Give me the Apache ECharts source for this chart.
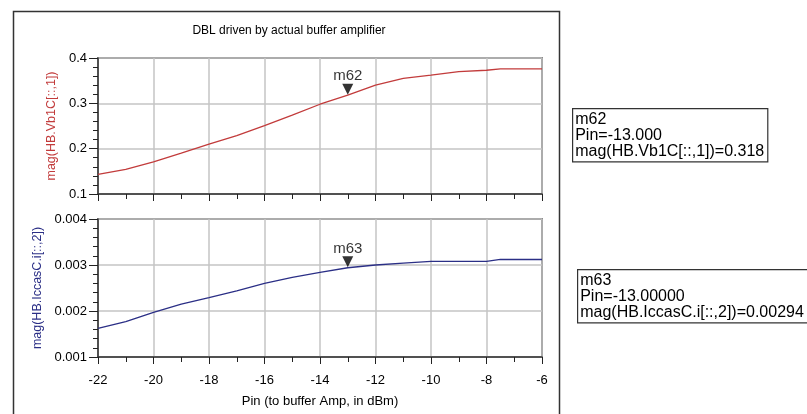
<!DOCTYPE html>
<html>
<head>
<meta charset="utf-8">
<script src="https://cdn.jsdelivr.net/npm/echarts@6/dist/echarts.min.js"></script>
<style>
  html, body { margin: 0; padding: 0; background: #fff; }
  #chart { width: 807px; height: 414px; }
</style>
</head>
<body>
<div id="chart"></div>
<script>
// Input power sweep (dBm)
const pin = [-22, -21, -20, -19, -18, -17, -16, -15, -14, -13, -12, -11, -10, -9, -8, -7.5, -7, -6];
// mag(HB.Vb1C[::,1]) — base voltage magnitude
const vb1c = [0.1435, 0.1545, 0.171, 0.190, 0.210, 0.229, 0.251, 0.274, 0.298, 0.318, 0.340, 0.355, 0.362, 0.370, 0.373, 0.376, 0.376, 0.376];
// mag(HB.IccasC.i[::,2]) — cascode current magnitude
const iccas = [0.00162, 0.00177, 0.00197, 0.00215, 0.00229, 0.00244, 0.00260, 0.00273, 0.00284, 0.00294, 0.00300, 0.00304, 0.00308, 0.00308, 0.00308, 0.00312, 0.00312, 0.00312];

// Markers
const markerPin = -13;
const m62Value = 0.318;
const m63Value = 0.00294;

const xTicks = [-22, -20, -18, -16, -14, -12, -10, -8, -6];
const yTopTicks = [0.1, 0.2, 0.3, 0.4];
const yBottomTicks = [0.001, 0.002, 0.003, 0.004];

const FONT = '"Liberation Sans", Arial, sans-serif';
const RED = '#c23b3b';
const BLUE = '#2b2f86';

const chart = echarts.init(document.getElementById('chart'), null, { renderer: 'canvas' });

function xAxisCfg(gridIndex, showLabels, name) {
  return {
    type: 'value',
    gridIndex: gridIndex,
    min: xTicks[0],
    max: xTicks[xTicks.length - 1],
    interval: xTicks[1] - xTicks[0],
    name: name,
    nameLocation: 'middle',
    nameGap: 38,
    nameTextStyle: { fontFamily: FONT, fontSize: 13, color: '#000' },
    axisLine: { show: true, onZero: false, lineStyle: { color: '#333', width: 1.5 } },
    axisTick: { show: true, length: 7, lineStyle: { color: '#222' } },
    minorTick: { show: true, splitNumber: 2, length: 5, lineStyle: { color: '#222' } },
    axisLabel: {
      show: showLabels, margin: 17, fontFamily: FONT, fontSize: 13, color: '#000',
      formatter: v => String(v)
    },
    splitLine: { show: true, lineStyle: { color: '#c4c4c4', width: 1.5 } }
  };
}

function yAxisCfg(gridIndex, ticks, name, color, digits) {
  return {
    type: 'value',
    gridIndex: gridIndex,
    min: ticks[0],
    max: ticks[ticks.length - 1],
    interval: ticks[1] - ticks[0],
    name: name,
    nameLocation: 'middle',
    nameGap: 40,
    nameTextStyle: { fontFamily: FONT, fontSize: 12.5, color: color },
    axisLine: { show: true, lineStyle: { color: '#333', width: 1.5 } },
    axisTick: { show: true, length: 9, lineStyle: { color: '#222' } },
    minorTick: { show: true, splitNumber: 5, length: 5, lineStyle: { color: '#222' } },
    axisLabel: {
      margin: 11, fontFamily: FONT, fontSize: 13, color: '#000',
      formatter: v => v.toFixed(digits)
    },
    splitLine: { show: true, lineStyle: { color: '#c4c4c4', width: 1.5 } }
  };
}

function pairs(xs, ys) { return xs.map((x, i) => [x, ys[i]]); }

function markerSeries(xIdx, yIdx, value, label) {
  return {
    type: 'scatter',
    xAxisIndex: xIdx,
    yAxisIndex: yIdx,
    data: [[markerPin, value]],
    symbol: 'triangle',
    symbolRotate: 180,
    symbolSize: [11, 11],
    symbolOffset: [0, -6],
    itemStyle: { color: '#000' },
    label: {
      show: true, position: 'top', distance: 0,
      formatter: label, fontFamily: FONT, fontSize: 15, color: '#000'
    },
    z: 5,
    silent: true
  };
}

const boxText = {
  fontFamily: FONT, fontSize: 16, lineHeight: 16, fill: '#000',
  backgroundColor: '#fff', borderColor: '#333', borderWidth: 1.2,
  padding: [2, 3, 2, 2]
};

chart.setOption({
  animation: false,
  backgroundColor: '#fff',
  title: {
    text: 'DBL driven by actual buffer amplifier',
    left: 284, top: 20, textAlign: 'center',
    textStyle: { fontFamily: FONT, fontSize: 12, fontWeight: 'normal', color: '#000' }
  },
  grid: [
    { left: 98, top: 58, width: 444, height: 136, show: true, borderColor: '#333', borderWidth: 1.5, backgroundColor: 'transparent' },
    { left: 98, top: 219, width: 444, height: 138, show: true, borderColor: '#333', borderWidth: 1.5, backgroundColor: 'transparent' }
  ],
  xAxis: [
    xAxisCfg(0, false, ''),
    xAxisCfg(1, true, 'Pin (to buffer Amp, in dBm)')
  ],
  yAxis: [
    yAxisCfg(0, yTopTicks, 'mag(HB.Vb1C[::,1])', RED, 1),
    yAxisCfg(1, yBottomTicks, 'mag(HB.IccasC.i[::,2])', BLUE, 3)
  ],
  series: [
    {
      type: 'line', xAxisIndex: 0, yAxisIndex: 0,
      data: pairs(pin, vb1c), showSymbol: false, smooth: false,
      lineStyle: { color: RED, width: 1.3 }, silent: true
    },
    {
      type: 'line', xAxisIndex: 1, yAxisIndex: 1,
      data: pairs(pin, iccas), showSymbol: false, smooth: false,
      lineStyle: { color: BLUE, width: 1.3 }, silent: true
    },
    markerSeries(0, 0, m62Value, 'm62'),
    markerSeries(1, 1, m63Value, 'm63')
  ],
  graphic: [
    {
      type: 'rect', left: 11, top: 9, silent: true,
      shape: { width: 546, height: 430 },
      style: { fill: 'none', stroke: '#333', lineWidth: 1.5 }
    },
    {
      type: 'text', left: 572, top: 108, silent: true,
      style: Object.assign({ text: 'm62\nPin=-13.000\nmag(HB.Vb1C[::,1])=' + m62Value.toFixed(3) }, boxText)
    },
    {
      type: 'text', left: 577, top: 269, silent: true,
      style: Object.assign({ text: 'm63\nPin=-13.00000\nmag(HB.IccasC.i[::,2])=' + m63Value.toFixed(5), width: 240, overflow: 'none' }, boxText)
    }
  ]
});
</script>
</body>
</html>
